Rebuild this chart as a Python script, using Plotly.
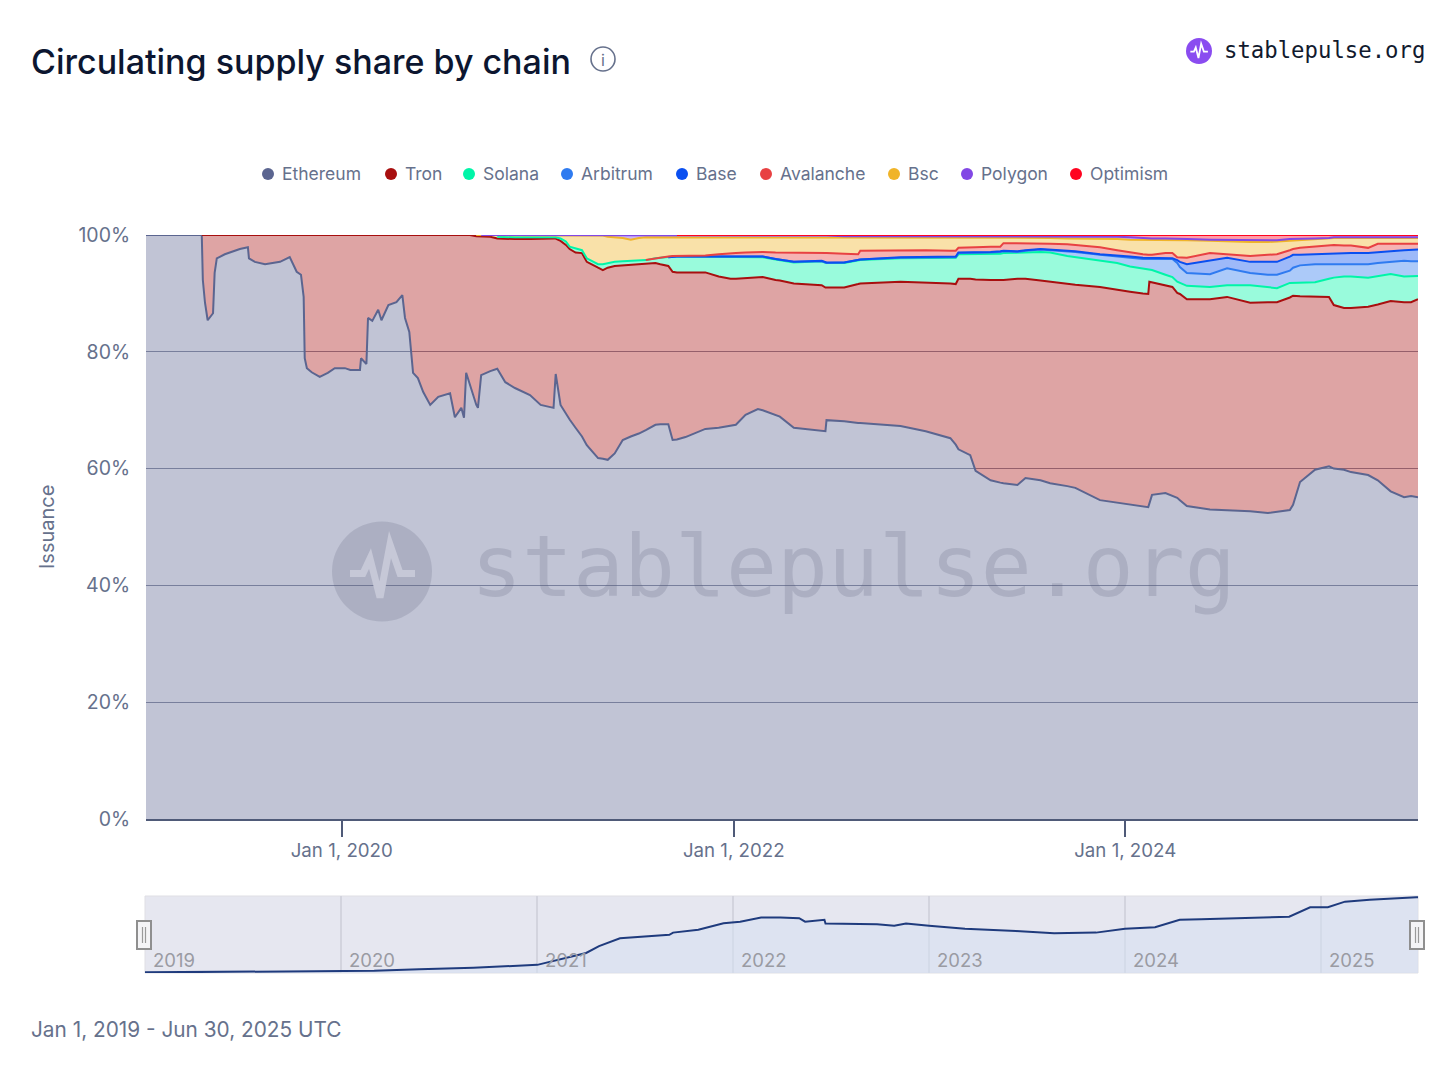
import plotly.graph_objects as go

W, H = 1456, 1082

# ---- data ----
dates = [
    # 2019
    "2019-01-01", "2019-04-15", "2019-04-17", "2019-04-21", "2019-04-26", "2019-05-06", "2019-05-09", "2019-05-13",
    "2019-05-28", "2019-06-25", "2019-07-10", "2019-07-12", "2019-07-23", "2019-08-11", "2019-09-08", "2019-09-26",
    "2019-10-09", "2019-10-17", "2019-10-22", "2019-10-24", "2019-10-28", "2019-11-06", "2019-11-21", "2019-12-06",
    "2019-12-19",
    # 2020
    "2020-01-07", "2020-01-17", "2020-02-04", "2020-02-06", "2020-02-16", "2020-02-19", "2020-02-27", "2020-03-09",
    "2020-03-15", "2020-03-28", "2020-04-12", "2020-04-23", "2020-04-28", "2020-05-06", "2020-05-13", "2020-05-22",
    "2020-06-01", "2020-06-14", "2020-06-29", "2020-07-21", "2020-07-30", "2020-08-11", "2020-08-16", "2020-08-20",
    "2020-08-27",
    "2020-09-08", "2020-09-11", "2020-09-17", "2020-10-04", "2020-10-17", "2020-11-01", "2020-11-19", "2020-12-17",
    # 2021
    "2021-01-06", "2021-01-30", "2021-02-03", "2021-02-12", "2021-02-22", "2021-03-01", "2021-03-12", "2021-03-24",
    "2021-04-02", "2021-04-13", "2021-04-23", "2021-05-02", "2021-05-11", "2021-05-24", "2021-06-08", "2021-06-23",
    "2021-07-08", "2021-07-21", "2021-08-08", "2021-08-17", "2021-09-01", "2021-09-09", "2021-09-17", "2021-10-03",
    "2021-11-09", "2021-12-04", "2021-12-26",
    # 2022
    "2022-01-05", "2022-01-23", "2022-02-15", "2022-02-24", "2022-03-20", "2022-03-28", "2022-04-23", "2022-06-14",
    "2022-06-21", "2022-06-23", "2022-07-26", "2022-08-21", "2022-08-25", "2022-11-08", "2022-12-25",
    # 2023
    "2023-02-09", "2023-02-19", "2023-02-24", "2023-03-18", "2023-03-28", "2023-04-25", "2023-05-13", "2023-05-19",
    "2023-06-14", "2023-06-29", "2023-07-27", "2023-08-14", "2023-09-15", "2023-09-30", "2023-11-15", "2023-12-17",
    # 2024
    "2024-01-10", "2024-02-03", "2024-02-13", "2024-02-15", "2024-02-20", "2024-03-16", "2024-03-29", "2024-04-07",
    "2024-04-12", "2024-04-25", "2024-06-07", "2024-07-09", "2024-08-21", "2024-09-23", "2024-10-10", "2024-11-03",
    "2024-11-09", "2024-11-22", "2024-12-20",
    # 2025
    "2025-01-15", "2025-01-24", "2025-02-12", "2025-02-25", "2025-03-29", "2025-04-16", "2025-05-10", "2025-06-04",
    "2025-06-17", "2025-06-30",
]

ethereum = [
    100, 100, 92.3, 88.4, 85.4, 86.6, 93.5, 96.0, 96.7, 97.6, 97.9, 96.0, 95.4, 95.0, 95.4, 96.2, 93.7, 93.2, 89.4,
    78.9, 77.2, 76.5, 75.7, 76.4, 77.2,
    77.2, 76.9, 76.9, 78.9, 77.9, 85.8, 85.3, 87.2, 85.4, 88.0, 88.5, 89.7, 85.8, 83.4, 76.4, 75.5, 73.1, 70.9, 72.3,
    72.9, 68.8, 70.4, 68.7, 76.4, 74.3,
    70.9, 70.4, 76.0, 76.7, 77.1, 74.8, 73.8, 72.6,
    70.9, 70.4, 76.2, 70.9, 69.3, 68.4, 67.0, 65.5, 64.0, 62.8, 61.8, 61.7, 61.5, 62.6, 64.9, 65.5, 66.0, 66.6, 67.5,
    67.6, 67.6, 64.9, 65.0, 65.4, 66.8, 67.0, 67.4,
    67.5, 69.2, 70.2, 70.0, 69.2, 68.9, 67.0, 66.5, 66.4, 68.3, 68.1, 67.8, 67.8, 67.3, 66.4,
    65.2, 64.1, 63.3, 62.3, 59.6, 58.0, 57.6, 57.5, 57.2, 58.4, 58.0, 57.5, 57.0, 56.7, 54.6, 54.2,
    53.8, 53.5, 53.4, 54.0, 55.5, 55.8, 55.4, 55.0, 54.6, 53.6, 53.0, 52.9, 52.7, 52.4, 52.6, 52.9, 53.8, 57.7, 59.8,
    60.4, 60.0, 59.8, 59.4, 58.9, 58.0, 56.1, 55.1, 55.3, 55.1,
]
tron = [
    None, 0, 7.7, 11.6, 14.6, 13.4, 6.5, 4.0, 3.3, 2.4, 2.1, 4.0, 4.6, 5.0, 4.6, 3.8, 6.3, 6.8, 10.6, 21.1, 22.8, 23.5,
    24.3, 23.6, 22.8,
    22.8, 23.1, 23.1, 21.1, 22.1, 14.2, 14.7, 12.8, 14.6, 12.0, 11.5, 10.3, 14.2, 16.6, 23.6, 24.5, 26.9, 29.1, 27.7,
    27.1, 31.2, 29.6, 31.3, 23.6, 25.7,
    28.9, 29.4, 23.8, 23.0, 22.3, 24.5, 25.5, 26.7,
    28.5, 29.0, 23.2, 28.1, 29.0, 29.2, 30.0, 31.4, 31.4, 32.0, 32.6, 32.3, 32.9, 32.1, 29.9, 29.4, 28.9, 28.4, 27.7,
    27.4, 27.1, 28.8, 28.6, 28.2, 26.8, 25.9, 25.1,
    25.0, 23.4, 22.6, 22.8, 23.1, 23.3, 24.7, 24.9, 24.6, 22.7, 22.9, 23.8, 23.9, 24.7, 25.5,
    26.5, 27.5, 29.2, 30.2, 32.8, 34.3, 34.7, 34.8, 35.3, 34.1, 34.2, 34.5, 34.7, 34.8, 36.5, 36.4,
    36.5, 36.5, 36.5, 38.0, 36.4, 35.5, 35.7, 35.1, 35.3, 35.4, 36.0, 36.5, 35.7, 36.1, 35.9, 36.4, 35.8, 31.8, 29.7,
    29.0, 28.0, 27.7, 28.1, 28.8, 30.1, 32.6, 33.4, 33.2, 33.9,
]
solana = [None] * 54 + [
    0.3, 0.3, 0.3, 0.3,
    0.2, 0.2, 0.2, 0.4, 0.6, 0.4, 0.7, 0.5, 0.6, 0.6, 0.6, 1.0, 0.8, 0.7, 0.7, 0.7, 0.8, 0.7, 0.8, 1.1, 1.5, 2.6, 2.7,
    2.7, 2.6, 3.3, 3.8,
    3.8, 3.7, 3.5, 3.4, 3.5, 3.5, 3.6, 4.1, 4.2, 4.2, 4.2, 4.0, 4.0, 4.0, 4.1,
    4.4, 4.5, 4.2, 4.2, 4.3, 4.5, 4.5, 4.6, 4.4, 4.5, 4.9, 5.0, 4.7, 4.7, 4.6, 4.6,
    4.3, 4.2, 4.2, 2.1, 2.1, 1.9, 1.7, 1.9, 1.9, 2.3, 2.1, 2.0, 3.0, 2.5, 2.4, 2.5, 2.2, 2.3, 2.4,
    3.1, 4.7, 5.4, 5.4, 5.0, 4.9, 4.6, 4.4, 4.5, 4.0,
]
arbitrum = [None] * 78 + [
    0, 0, 0, 0, 0.1, 0.1, 0.1,
    0.1, 0.1, 0.1, 0.1, 0.1, 0.1, 0.1, 0, 0, 0, 0.1, 0.1, 0.1, 0.1, 0.1,
    0.1, 0.1, 0.2, 0.2, 0.2, 0.2, 0.3, 0.3, 0.2, 0.3, 0.4, 0.4, 0.8, 0.9, 0.9, 1.1,
    1.6, 1.7, 1.8, 1.8, 1.9, 2.7, 3.1, 3.2, 2.7, 2.2, 2.2, 2.9, 2.1, 2.2, 2.3, 2.1, 2.6, 3.0, 3.1,
    2.5, 2.3, 2.1, 2.1, 2.3, 2.2, 2.1, 2.7, 2.5, 2.5,
]
base = [None] * 78 + [
    0, 0, 0, 0, 0, 0, 0,
    0, 0, 0, 0, 0, 0, 0, 0.1, 0.1, 0.1, 0, 0, 0, 0.1, 0.2,
    0.1, 0.1, 0.1, 0.1, 0.1, 0.1, 0.1, 0.1, 0.1, 0.1, 0.1, 0.1, 0.1, 0.1, 0.1, 0.1,
    0.1, 0.2, 0.2, 0.2, 0.1, 0.1, 0.1, 0.5, 0.9, 1.5, 2.4, 1.8, 1.9, 2.2, 2.2, 2.4, 2.2, 1.8, 1.7,
    1.8, 1.8, 1.9, 1.9, 1.9, 1.8, 1.8, 1.8, 2.0, 2.0,
]
avalanche = [None] * 75 + [
    0, 0, 0, 0.1, 0.1, 0.1, 0.1, 0.2, 0.4, 0.5,
    0.5, 0.6, 0.7, 0.8, 1.1, 1.2, 1.6, 1.3, 1.6, 1.6, 1.5, 1.0, 1.5, 1.2, 1.1,
    1.0, 1.0, 0.8, 0.8, 0.9, 0.9, 0.8, 1.3, 1.4, 1.2, 1.0, 1.0, 1.1, 1.1, 1.2, 1.0,
    0.7, 0.6, 0.5, 0.5, 0.6, 0.9, 0.9, 0.5, 0.8, 1.1, 1.2, 0.6, 1.0, 1.2, 1.3, 1.1, 1.0, 1.2, 1.3,
    1.4, 1.5, 1.3, 1.3, 0.9, 1.5, 1.3, 1.1, 1.0, 1.0,
]
bsc = [None] * 50 + [
    0.2, 0.2, 0.1, 0.2, 0.2, 0.3, 0.3, 0.3,
    0.3, 0.3, 0.3, 0.5, 1.0, 1.9, 2.2, 2.5, 3.9, 4.5, 4.9, 4.9, 4.5, 4.2, 4.0, 3.6, 3.8, 3.9, 3.6, 3.5, 3.3, 3.2, 3.2,
    3.2, 3.1, 2.9, 2.7,
    2.7, 2.6, 2.5, 2.5, 2.6, 2.6, 2.6, 2.7, 2.7, 2.7, 2.8, 2.9, 2.3, 2.2, 2.2,
    2.3, 2.3, 1.8, 1.8, 1.7, 1.6, 1.5, 0.9, 0.9, 0.9, 0.9, 1.0, 1.0, 1.1, 1.4, 1.9,
    2.2, 2.5, 2.6, 2.6, 2.6, 2.2, 2.2, 2.9, 2.9, 3.0, 2.1, 2.2, 2.4, 2.2, 2.2, 1.6, 1.4, 1.3, 1.2,
    1.2, 1.2, 1.3, 1.3, 1.7, 1.0, 1.0, 1.0, 1.0, 1.0,
]
polygon = [None] * 52 + [
    0.1, 0.1, 0.1, 0.1, 0.1, 0.1,
    0.1, 0.1, 0.1, 0.1, 0.1, 0.1, 0.1, 0.1, 0.1, 0.1, 0.1, 0.1, 0.3, 0.4, 0.5, 0.8, 0.5, 0.4, 0.4, 0.4, 0.4, 0.4, 0.3,
    0.3, 0.3, 0.3, 0.3,
    0.3, 0.3, 0.3, 0.3, 0.3, 0.3, 0.3, 0.3, 0.3, 0.3, 0.2, 0.2, 0.2, 0.2, 0.2,
    0.2, 0.2, 0.2, 0.2, 0.2, 0.2, 0.2, 0.2, 0.2, 0.2, 0.2, 0.2, 0.3, 0.3, 0.4, 0.4,
    0.4, 0.3, 0.2, 0.2, 0.2, 0.3, 0.3, 0.3, 0.3, 0.2, 0.2, 0.3, 0.3, 0.3, 0.2, 0.3, 0.3, 0.2, 0.2,
    0.1, 0.1, 0.1, 0.1, 0.1, 0.1, 0.1, 0.1, 0.1, 0.1,
]
optimism = [None] * 80 + [
    0.1, 0.1, 0.1, 0.1, 0.1,
    0.1, 0.1, 0.1, 0.1, 0.1, 0.1, 0.1, 0.1, 0.1, 0.1, 0.2, 0.2, 0.2, 0.2, 0.2,
    0.2, 0.2, 0.2, 0.2, 0.2, 0.2, 0.3, 0.3, 0.3, 0.3, 0.3, 0.3, 0.3, 0.3, 0.3, 0.3,
    0.4, 0.5, 0.6, 0.6, 0.6, 0.6, 0.6, 0.6, 0.6, 0.7, 0.8, 0.8, 0.9, 0.9, 0.9, 0.7, 0.7, 0.7, 0.6,
    0.5, 0.4, 0.4, 0.4, 0.4, 0.4, 0.4, 0.4, 0.4, 0.4,
]

chains = ["Ethereum", "Tron", "Solana", "Arbitrum", "Base", "Avalanche", "Bsc", "Polygon", "Optimism"]
shares = [ethereum, tron, solana, arbitrum, base, avalanche, bsc, polygon, optimism]
colors = ["#5b6590", "#a80f0f", "#00f5a8", "#2f7bf0", "#0a4ff0", "#e84142", "#f0b429", "#8247e5", "#ff0420"]
fills = ["rgba(91,101,144,0.38)", "rgba(168,15,15,0.38)", "rgba(0,245,168,0.40)", "rgba(47,123,240,0.40)",
         "rgba(10,79,240,0.40)", "rgba(232,65,66,0.40)", "rgba(240,180,41,0.40)", "rgba(130,71,229,0.40)",
         "rgba(255,4,32,0.40)"]

# total supply in the navigator strip, bn
nav_dates = ["2019-01-01", "2019-06-01", "2020-03-03", "2020-05-26", "2020-09-04", "2021-01-01", "2021-04-02",
             "2021-04-26", "2021-06-04", "2021-09-04", "2021-09-11", "2021-10-28", "2021-12-14", "2022-01-14",
             "2022-02-22", "2022-03-30", "2022-05-04", "2022-05-15", "2022-06-20", "2022-06-22", "2022-09-26",
             "2022-10-28", "2022-11-19", "2023-01-01", "2023-03-09", "2023-06-12", "2023-08-22", "2023-11-08",
             "2024-01-01", "2024-02-26", "2024-04-12", "2024-05-22", "2024-08-08", "2024-11-02", "2024-12-11",
             "2025-01-13", "2025-02-14", "2025-04-01", "2025-06-27", "2025-06-30"]
nav_supply = [2, 4, 7, 12, 17, 26, 64, 86, 111, 122, 129, 138, 159, 164, 177, 177, 175, 164, 170, 158, 156, 151,
              158, 151, 141, 134, 127, 129, 141, 146, 170, 172, 175, 180, 210, 210, 228, 234, 242, 242]

y_ticks = [0, 20, 40, 60, 80, 100]
y_tick_labels = ["0%", "20%", "40%", "60%", "80%", "100%"]
x_ticks = ["2020-01-01", "2022-01-01", "2024-01-01"]
x_tick_labels = ["Jan 1, 2020", "Jan 1, 2022", "Jan 1, 2024"]
years = ["2019", "2020", "2021", "2022", "2023", "2024", "2025"]

for s in shares:
    assert len(s) == len(dates)

FONT = "Inter"
GREY = "#66718c"


def px(x):
    return x / W


def py(y):
    return 1 - y / H


fig = go.Figure()

# stacked fills first, the coloured edges go on top and only where a chain has data
for name, share, fill in zip(chains, shares, fills):
    fig.add_trace(go.Scatter(x=dates, y=share, name=name, mode="lines", stackgroup="supply",
                             line=dict(width=0), fillcolor=fill, showlegend=False, hoverinfo="skip"))

running = [0.0] * len(dates)
for name, share, col in zip(chains, shares, colors):
    running = [r + (v or 0) for r, v in zip(running, share)]
    edge = [r if v is not None else None for r, v in zip(running, share)]
    fig.add_trace(go.Scatter(x=dates, y=edge, name=name, mode="lines", line=dict(color=col, width=2),
                             showlegend=False, cliponaxis=False, hoverinfo="skip"))

fig.add_trace(go.Scatter(x=nav_dates, y=nav_supply, mode="lines", xaxis="x2", yaxis="y2", fill="tozeroy",
                         line=dict(color="#1f3b7d", width=2), fillcolor="rgba(214,224,243,0.55)",
                         showlegend=False, hoverinfo="skip"))

shapes = []
annotations = []


def text(x, y, s, size, color=GREY, anchor="left", family=FONT, weight=None, angle=0):
    if anchor == "left":
        x -= 2  # annotation box padding
    annotations.append(dict(xref="paper", yref="paper", x=px(x), y=py(y), text=s, showarrow=False,
                            xanchor=anchor, yanchor="middle", textangle=angle,
                            font=dict(family=family, size=size, color=color, weight=weight)))


def circle(cx, cy, r, fill, line=None, width=0):
    shapes.append(dict(type="circle", xref="paper", yref="paper", x0=px(cx - r), x1=px(cx + r),
                       y0=py(cy + r), y1=py(cy - r), fillcolor=fill, line=dict(color=line, width=width)))


def pulse(cx, cy, scale, color, width):
    pts = [(-32, 2), (-19, 2), (-12, -13), (-2, 26), (8, -27), (18, 2), (33, 2)]
    path = "M " + " L ".join(f"{px(cx + a * scale):.5f},{py(cy + b * scale):.5f}" for a, b in pts)
    shapes.append(dict(type="path", xref="paper", yref="paper", path=path, line=dict(color=color, width=width)))


# header
text(31, 62, "Circulating supply share by chain", 34, color="#0c1630", weight=500)
circle(603, 59, 12, "rgba(0,0,0,0)", GREY, 1.6)
text(603, 60, "i", 16, anchor="center")
circle(1199, 51, 13, "#8a4cf0")
pulse(1199, 51, 0.27, "white", 1.8)
text(1224, 50, "stablepulse.org", 22.3, color="#111a2e", family="DejaVu Sans Mono")

# legend
legend_dots = [268, 391, 469, 567, 682, 766, 894, 967, 1076]
for name, col, dot in zip(chains, colors, legend_dots):
    circle(dot, 174, 6, col)
    text(dot + 14, 173.5, name, 17.5)

# watermark
circle(382, 571.5, 50, "rgba(90,95,120,0.20)")
pulse(382, 571.5, 1, "#c6c8d7", 7)
text(471, 566, "stablepulse.org", 84.7, color="rgba(90,95,120,0.20)", family="DejaVu Sans Mono")

text(47, 527, "Issuance", 20, anchor="center", angle=-90)
text(31, 1029, "Jan 1, 2019 - Jun 30, 2025 UTC", 20.8)

# navigator strip
shapes.append(dict(type="rect", xref="paper", yref="paper", layer="below", x0=px(145), x1=px(1418), y0=py(973),
                   y1=py(896), fillcolor="#e6e7f0", line=dict(color="#dfdfe4", width=1)))
for yr in years:
    annotations.append(dict(xref="x2", yref="paper", x=f"{yr}-01-01", y=py(960), text=yr, showarrow=False,
                            xanchor="left", yanchor="middle", xshift=6,
                            font=dict(family=FONT, size=18.5, color="#9a9ba3")))
for x0, x1 in [(137, 151), (1410, 1424)]:
    shapes.append(dict(type="rect", xref="paper", yref="paper", x0=px(x0), x1=px(x1), y0=py(949), y1=py(921),
                       fillcolor="#f4f4f6", line=dict(color="#8f8f8f", width=2)))
    for xl in (x0 + 5.5, x0 + 8.5):
        shapes.append(dict(type="line", xref="paper", yref="paper", x0=px(xl), x1=px(xl), y0=py(943), y1=py(927),
                           line=dict(color="#9a9a9a", width=1.2)))

fig.update_layout(
    width=W, height=H, margin=dict(l=0, r=0, t=0, b=0, pad=0),
    paper_bgcolor="white", plot_bgcolor="rgba(0,0,0,0)",
    font=dict(family=FONT, color=GREY, size=18),
    shapes=shapes, annotations=annotations, showlegend=False,
    xaxis=dict(domain=[px(146), px(1418)], range=["2019-01-01", "2025-06-30"], type="date", showgrid=False,
               tickvals=x_ticks, ticktext=x_tick_labels, ticks="outside", ticklen=16, tickwidth=1.5,
               tickcolor="#4f5a78", showline=True, linecolor="#4f5a78", linewidth=1.5, ticklabelstandoff=-2,
               tickfont=dict(size=18.7, color=GREY), zeroline=False, automargin=False),
    yaxis=dict(domain=[py(819), py(235)], range=[0, 100], tickvals=y_ticks, ticktext=y_tick_labels, showgrid=True,
               gridcolor="#8a90a4", gridwidth=1, zeroline=False, ticks="outside", ticklen=11,
               tickcolor="rgba(0,0,0,0)", tickfont=dict(size=19.5, color=GREY), automargin=False),
    xaxis2=dict(domain=[px(145), px(1418)], range=["2019-01-01", "2025-06-30"], type="date", anchor="y2",
                showticklabels=False, ticks="", showgrid=True, dtick="M12", tick0="2019-01-01",
                gridcolor="#d3d4de", gridwidth=2, zeroline=False, automargin=False),
    yaxis2=dict(domain=[py(973), py(896)], range=[0, 246], anchor="x2", visible=False, automargin=False),
)

fig.write_html("out.html", config=dict(displayModeBar=False), post_script="document.body.style.margin='0';")
